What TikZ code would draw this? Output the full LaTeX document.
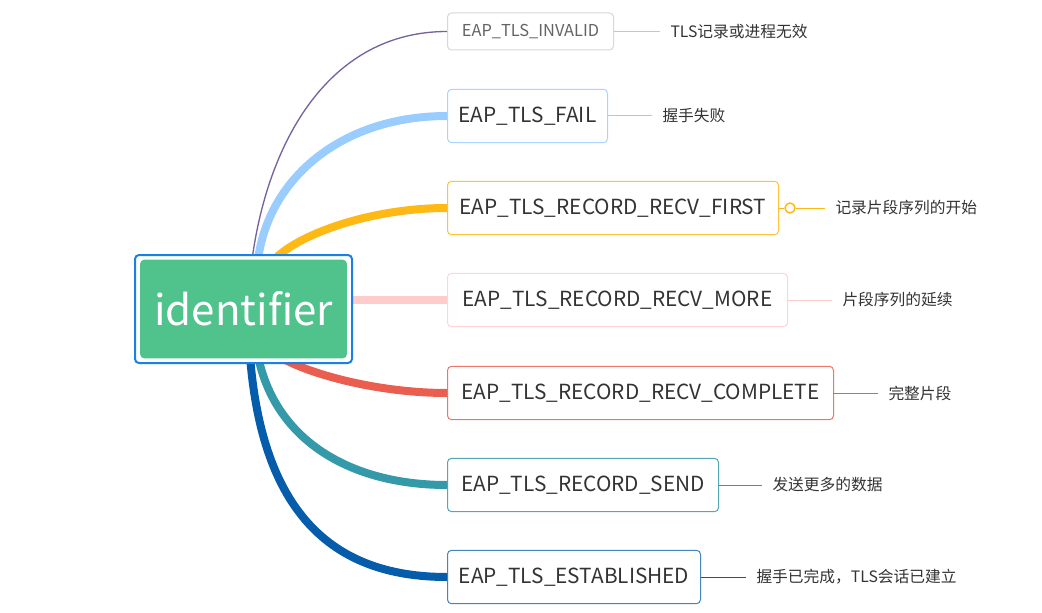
\documentclass[tikz,border=0pt]{standalone}
\usepackage{fontspec}
\setmainfont{Noto Sans CJK SC}

\definecolor{cInv}{RGB}{117,99,158}
\definecolor{cFail}{RGB}{153,204,255}
\definecolor{cFirst}{RGB}{255,185,21}
\definecolor{cMore}{RGB}{255,204,204}
\definecolor{cComp}{RGB}{233,94,78}
\definecolor{cSend}{RGB}{52,153,168}
\definecolor{cEst}{RGB}{4,92,170}
\definecolor{rootfill}{RGB}{80,194,139}
\definecolor{rootline}{RGB}{26,128,230}
\definecolor{txt}{RGB}{51,51,51}

\tikzset{every picture/.style={line width=0.75pt}}
\tikzset{
  leaf/.style={draw, rounded corners=3pt, fill=white, anchor=west, minimum height=40pt, text=txt, font=\fontsize{15.6}{18}\selectfont},
  note/.style={anchor=west, inner xsep=7.5pt, inner ysep=0pt, text=txt, font=\fontsize{11.8}{14}\selectfont},
  branch/.style={line width=6pt},
}

\begin{document}
\begin{tikzpicture}[x=0.75pt,y=0.75pt,yscale=-1,xscale=1]

\useasboundingbox (0,0) rectangle (1042,613);

\node [leaf, draw={rgb,255:red,215;green,215;blue,215}, minimum width=124.5pt, minimum height=27.75pt, text={rgb,255:red,100;green,100;blue,100}, font=\fontsize{12.3}{14}\selectfont] (inv) at (447,31.5) {EAP\_TLS\_INVALID};
\node [leaf, draw=cFail!85, minimum width=120pt] (fail) at (447,116) {EAP\_TLS\_FAIL};
\node [leaf, draw=cFirst!85, minimum width=248.25pt] (first) at (447,208) {EAP\_TLS\_RECORD\_RECV\_FIRST};
\node [leaf, draw=cMore!85, minimum width=255pt] (more) at (447,300) {EAP\_TLS\_RECORD\_RECV\_MORE};
\node [leaf, draw=cComp!85, minimum width=289.5pt] (comp) at (447,393) {EAP\_TLS\_RECORD\_RECV\_COMPLETE};
\node [leaf, draw=cSend!85, minimum width=203.25pt] (send) at (447,485) {EAP\_TLS\_RECORD\_SEND};
\node [leaf, draw=cEst!75, minimum width=189.75pt] (est) at (447,577) {EAP\_TLS\_ESTABLISHED};

\node [note] (nInv) at (660,31.5) {TLS记录或进程无效};
\node [note] (nFail) at (652,116) {握手失败};
\node [draw=cFirst, fill=white, circle, inner sep=0pt, minimum size=7.5pt, line width=1.1pt] (dot) at (790,208) {};
\node [note] (nFirst) at (825,208) {记录片段序列的开始};
\node [note] (nMore) at (832,300) {片段序列的延续};
\node [note] (nComp) at (878,393) {完整片段};
\node [note] (nSend) at (762,485) {发送更多的数据};
\node [note] (nEst) at (746,577) {握手已完成，TLS会话已建立};

\draw [cInv!40] (inv.east) -- (nInv.west);
\draw [cFail] (fail.east) -- (nFail.west);
\draw [cFirst] (first.east) -- (dot.west);
\draw [cFirst] (dot.east) -- (nFirst.west);
\draw [cMore] (more.east) -- (nMore.west);
\draw [cComp] (comp.east) -- (nComp.west);
\draw [cSend] (send.east) -- (nSend.west);
\draw [cEst] (est.east) -- (nEst.west);

\coordinate (rInv) at (252,260);
\coordinate (rFail) at (258,260);
\coordinate (rFirst) at (272,262);
\coordinate (rMore) at (340,300);
\coordinate (rComp) at (278,356);
\coordinate (rSend) at (258,356);
\coordinate (rEst) at (250,356);

\draw [cInv, line width=1pt] (rInv) .. controls (268,140) and (330,31.5) .. (inv.west);
\draw [branch, cFail] (rFail) .. controls (268,180) and (340,116) .. (fail.west);
\draw [branch, cFirst] (rFirst) .. controls (295,235) and (370,208) .. (first.west);
\draw [branch, cMore] (rMore) -- (more.west);
\draw [branch, cComp] (rComp) .. controls (310,375) and (380,393) .. (comp.west);
\draw [branch, cSend] (rSend) .. controls (275,440) and (350,485) .. (send.west);
\draw [branch, cEst] (rEst) .. controls (262,510) and (330,577) .. (est.west);

\node [draw=rootline, line width=1.5pt, fill=white, rounded corners=3pt, minimum width=162.75pt, minimum height=81pt] (frame) at (243.5,309) {};
\node [fill=rootfill, rounded corners=3pt, minimum width=155pt, minimum height=74pt, text=white, font=\fontsize{31.5}{36}\selectfont] (root) at (frame.center) {identifier};

\end{tikzpicture}
\end{document}
